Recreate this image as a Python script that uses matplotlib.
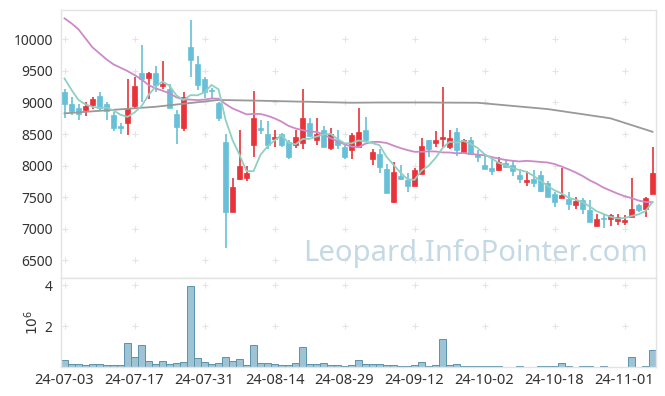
import matplotlib
matplotlib.use("Agg")
import matplotlib.pyplot as plt
import numpy as np

plt.rcParams['font.family'] = ['Noto Sans', 'DejaVu Sans']

dates = ["24-07-03", "24-07-17", "24-07-31", "24-08-14", "24-08-29",
         "24-09-12", "24-10-02", "24-10-18", "24-11-01"]
tick_idx = [0, 10, 20, 30, 40, 50, 60, 70, 80]

open_ = [9160, 8970, 8910, 8880, 8960, 9100, 8970, 8800, 8620, 8680,
         8940, 9460, 9390, 9460, 9260, 9220, 8820, 8600, 9880, 9610,
         9370, 9200, 8990, 8370, 7270, 7790, 7810, 8330, 8600, 8500,
         8420, 8500, 8380, 8320, 8360, 8670, 8400, 8560, 8280, 8410,
         8300, 8240, 8300, 8560, 8100, 8190, 7950, 7430, 7840, 7770,
         7680, 7870, 8410, 8360, 8420, 8300, 8530, 8220, 8410, 8180,
         8010, 7960, 7930, 8040, 8010, 7850, 7740, 7790, 7850, 7720,
         7550, 7490, 7470, 7380, 7450, 7300, 7050, 7170, 7160, 7130,
         7110, 7190, 7380, 7310, 7550]
high = [9210, 9090, 8970, 9010, 9080, 9160, 9000, 8850, 8680, 9370,
        9400, 9910, 9490, 9580, 9660, 9290, 8880, 9160, 10310, 9740,
        9400, 9230, 9010, 8500, 7800, 8570, 8000, 9180, 8730, 8700,
        8570, 8520, 8410, 8560, 9210, 8750, 8750, 8620, 8600, 8570,
        8360, 8520, 8910, 8770, 8260, 8270, 8020, 8050, 8010, 7890,
        7960, 8430, 8410, 8550, 9250, 8560, 8590, 8420, 8450, 8240,
        8170, 8140, 8140, 8100, 8070, 7940, 7910, 7930, 7920, 7750,
        7590, 7960, 7590, 7500, 7490, 7450, 7230, 7240, 7230, 7240,
        7220, 7800, 7400, 7510, 8290]
low = [8750, 8800, 8730, 8780, 8890, 8870, 8720, 8550, 8500, 8480,
       8920, 9010, 9050, 9170, 9210, 8910, 8350, 8550, 9400, 9200,
       9070, 9050, 8710, 6690, 7260, 7780, 7750, 8140, 8500, 8270,
       8290, 8300, 8100, 8280, 8260, 8460, 8320, 8290, 8240, 8270,
       8100, 8100, 8290, 8390, 8010, 7880, 7560, 7410, 7770, 7590,
       7680, 7870, 8130, 8300, 8300, 8270, 8150, 8210, 8170, 8060,
       7940, 7850, 7920, 7980, 7830, 7730, 7680, 7660, 7590, 7500,
       7350, 7490, 7300, 7320, 7240, 7100, 7050, 7010, 7050, 7060,
       7060, 7180, 7270, 7190, 7550]
close = [8970, 8870, 8810, 8940, 9060, 8910, 8870, 8590, 8600, 8890,
         9260, 9370, 9460, 9280, 9290, 8920, 8610, 9090, 9670, 9280,
         9160, 9190, 8750, 7270, 7660, 7990, 7890, 8750, 8570, 8320,
         8460, 8320, 8130, 8450, 8750, 8470, 8500, 8300, 8500, 8330,
         8140, 8490, 8530, 8410, 8210, 7980, 7570, 7900, 7790, 7680,
         7930, 8310, 8270, 8410, 8460, 8440, 8240, 8410, 8180, 8130,
         7950, 7910, 8050, 7980, 7920, 7790, 7770, 7730, 7600, 7510,
         7430, 7530, 7390, 7440, 7320, 7100, 7150, 7160, 7220, 7180,
         7140, 7310, 7290, 7480, 7890]

ma5 = [9380, 9200, 9040, 8970, 8930, 8918, 8918, 8874, 8806, 8772,
       8842, 8942, 9116, 9252, 9332, 9264, 9112, 9038, 9116, 9114,
       9162, 9278, 9210, 8730, 8406, 8172, 7912, 7912, 8172, 8304,
       8398, 8484, 8360, 8336, 8422, 8424, 8460, 8494, 8504, 8420,
       8354, 8352, 8398, 8380, 8356, 8324, 8140, 8014, 7890, 7784,
       7774, 7922, 7996, 8120, 8276, 8378, 8364, 8392, 8346, 8280,
       8182, 8116, 8044, 8004, 7962, 7930, 7902, 7838, 7762, 7680,
       7608, 7560, 7492, 7460, 7422, 7356, 7280, 7234, 7190, 7162,
       7170, 7202, 7228, 7280, 7422]
ma20 = [10333, 10253, 10158, 10016, 9873, 9778, 9683, 9604, 9551, 9498,
        9435, 9366, 9277, 9224, 9187, 9145, 9081, 9050, 9045, 9037,
        9047, 9063, 9060, 8976, 8906, 8860, 8811, 8819, 8818, 8789,
        8749, 8697, 8630, 8589, 8562, 8539, 8534, 8494, 8436, 8388,
        8337, 8302, 8291, 8348, 8376, 8375, 8359, 8317, 8278, 8246,
        8219, 8219, 8226, 8224, 8209, 8208, 8195, 8200, 8184, 8174,
        8165, 8136, 8112, 8090, 8076, 8066, 8076, 8068, 8058, 8050,
        8025, 7986, 7942, 7893, 7836, 7769, 7715, 7652, 7604, 7557,
        7516, 7486, 7448, 7423, 7422]
ma_long = [8828, 8836, 8844, 8852, 8860, 8868, 8876, 8884, 8892, 8900,
           8908, 8916, 8924, 8932, 8944, 8956, 8968, 8980, 8992, 9004,
           9016, 9028, 9040, 9038, 9036, 9034, 9032, 9030, 9028, 9025,
           9023, 9020, 9018, 9015, 9013, 9011, 9008, 9006, 9003, 9001,
           8998, 8996, 8997, 8998, 8999, 9000, 9000, 9000, 9000, 9000,
           9000, 9000, 9000, 8999, 8998, 8998, 8997, 8997, 8996, 8996,
           8986, 8976, 8966, 8956, 8946, 8936, 8926, 8916, 8906, 8896,
           8880, 8864, 8847, 8831, 8815, 8798, 8782, 8766, 8749, 8714,
           8678, 8643, 8607, 8572, 8536]
volume_m = [0.34, 0.15, 0.15, 0.10, 0.15, 0.15, 0.10, 0.10, 0.10, 1.17,
            0.49, 1.07, 0.29, 0.15, 0.29, 0.15, 0.20, 0.24, 3.95, 0.44,
            0.24, 0.15, 0.20, 0.49, 0.29, 0.39, 0.10, 1.07, 0.20, 0.20,
            0.15, 0.10, 0.10, 0.20, 0.98, 0.15, 0.15, 0.20, 0.10, 0.10,
            0.05, 0.10, 0.34, 0.15, 0.15, 0.15, 0.10, 0.10, 0.05, 0.05,
            0.10, 0.24, 0.05, 0.10, 1.37, 0.10, 0.15, 0.05, 0.05, 0.05,
            0.05, 0.05, 0.05, 0.01, 0.01, 0.05, 0.01, 0.01, 0.05, 0.05,
            0.05, 0.20, 0.05, 0.01, 0.05, 0.05, 0.01, 0.05, 0.01, 0.01,
            0.01, 0.49, 0.01, 0.05, 0.83]

price_ticks = [6500, 7000, 7500, 8000, 8500, 9000, 9500, 10000]
vol_ticks = [2, 4]

UP = '#e8333a'
DOWN = '#68c0d8'
GRID = '#e4e4e4'
FRAME = '#e3e3e3'
TXT = '#333333'

W, H = 665, 396
fig = plt.figure(figsize=(W / 100, H / 100), dpi=100)
L, R = 61 / W, 656 / W
ax = fig.add_axes([L, 1 - 278 / H, R - L, (278 - 10) / H])
axv = fig.add_axes([L, 1 - 367 / H, R - L, (367 - 278) / H], sharex=ax)

x = np.arange(len(close))
o = np.array(open_); c = np.array(close)
hi = np.array(high); lo = np.array(low)
colors = [UP if cc >= oo else DOWN for oo, cc in zip(o, c)]

# grid crosses
for a, yt in ((ax, price_ticks), (axv, vol_ticks)):
    gx, gy = np.meshgrid(tick_idx, yt)
    a.scatter(gx.ravel(), gy.ravel(), marker='+', s=14, c=GRID, lw=0.8, zorder=0)

ax.vlines(x, lo, hi, colors=colors, lw=1.2, zorder=2)
bh = c - o
bh = np.where(np.abs(bh) < 15, np.sign(bh + 0.1) * 15, bh)
ax.bar(x, bh, bottom=o, width=0.7, color=colors, edgecolor=colors, lw=0.5, zorder=3)

ax.plot(x, ma_long, color='#999999', lw=1.3, zorder=4)
ax.plot(x, ma20, color='#cc8ac8', lw=1.3, zorder=4)
ax.plot(x, ma5, color='#8fd0c2', lw=1.3, zorder=4)

ax.text(0.697, 0.093, 'Leopard.InfoPointer.com', transform=ax.transAxes,
        ha='center', va='center', fontsize=21, color='#c5d9e5', zorder=1)

ax.set_xlim(-0.5, 84.5)
ax.set_ylim(6220, 10465)
ax.set_yticks(price_ticks)
ax.set_yticklabels([str(t) for t in price_ticks])
ax.tick_params(axis='y', length=0, pad=6, labelsize=10, labelcolor=TXT)
ax.tick_params(axis='x', length=0, labelbottom=False)

axv.bar(x, volume_m, width=1.0, color='#9dc3d4', edgecolor='#5b93ad', lw=0.7, zorder=2)
axv.set_ylim(0, 4.35)
axv.set_yticks(vol_ticks)
axv.set_yticklabels([str(t) for t in vol_ticks])
axv.set_xticks(tick_idx)
axv.set_xticklabels(dates)
axv.tick_params(axis='y', length=0, pad=6, labelsize=10, labelcolor=TXT)
axv.tick_params(axis='x', length=0, pad=4, labelsize=10.5, labelcolor=TXT)
fig.text(33 / W, 1 - 322 / H, r'$10^6$', rotation=90, ha='center', va='center',
         fontsize=10, color=TXT)

for a in (ax, axv):
    for s in a.spines.values():
        s.set_color(FRAME)
        s.set_linewidth(1.0)
    a.set_facecolor('white')

fig.savefig('out.png', dpi=100, facecolor='white')
